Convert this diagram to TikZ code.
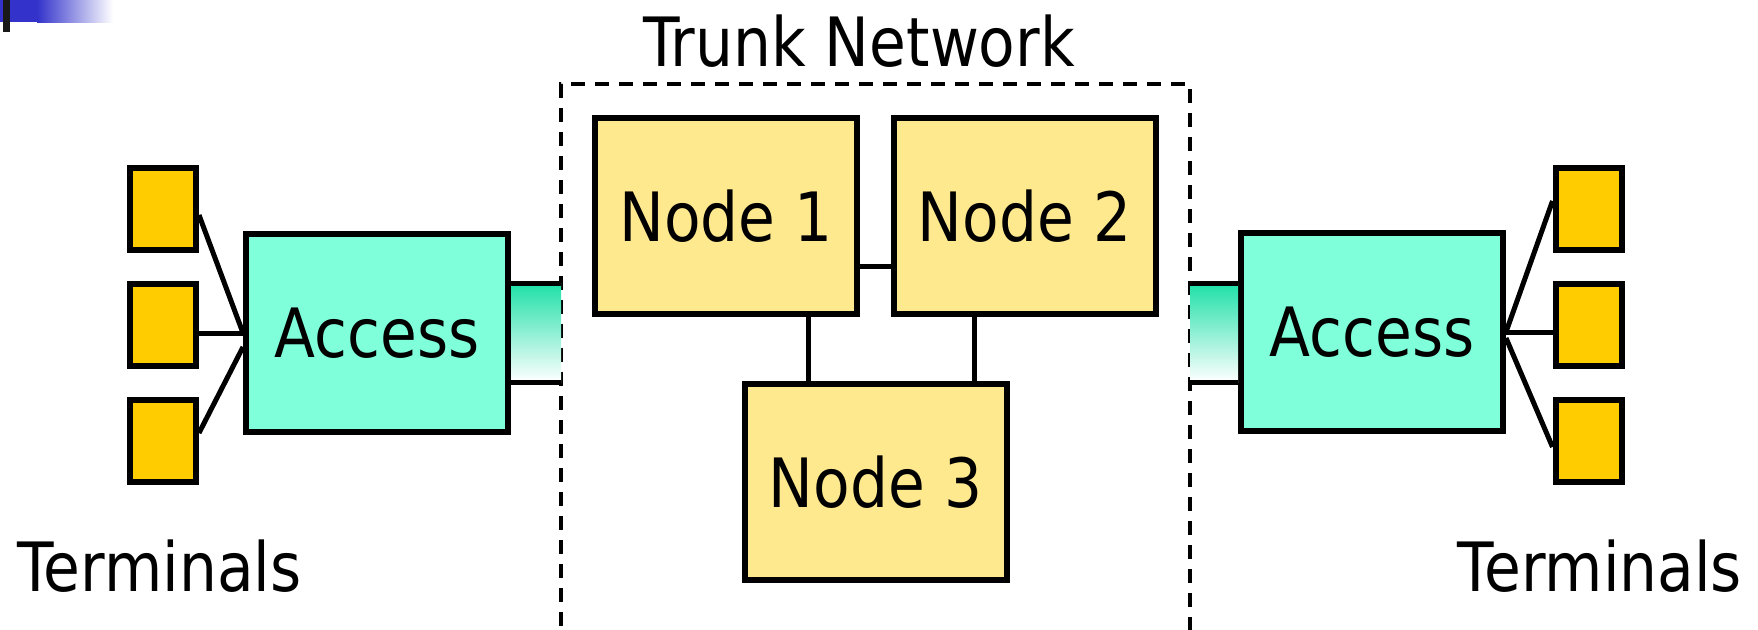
\documentclass[tikz,border=0pt]{standalone}
\usepackage{fontspec}
\setmainfont{DejaVu Sans}[FakeStretch=0.88]
\definecolor{termY}{HTML}{FFCC00}
\definecolor{accC}{HTML}{80FFDB}
\definecolor{nodeY}{HTML}{FFE98F}
\definecolor{gradTeal}{HTML}{1EE0A8}
\definecolor{barBlue}{HTML}{3333CC}
\begin{document}
\begin{tikzpicture}[x=1pt,y=-1pt,
 box/.style={draw=black, line width=6pt, rectangle, inner sep=0pt},
 term/.style={box, fill=termY, minimum width=66pt, minimum height=82pt},
 acc/.style={box, fill=accC, minimum width=262pt, minimum height=198pt, font=\fontsize{68}{80}\selectfont},
 trunkbox/.style={box, fill=nodeY, minimum width=262pt, minimum height=196pt, font=\fontsize{68}{80}\selectfont},
 wire/.style={line width=5pt},
 lbl/.style={font=\fontsize{68}{80}\selectfont, inner sep=0pt, anchor=base}]
\useasboundingbox (0,0) rectangle (1758,629);
\fill[white] (0,0) rectangle (1758,629);
% corner decoration
\fill[barBlue] (0,0) rectangle (38,22);
\shade[left color=barBlue, right color=white] (37,0) rectangle (113,22);
\fill[black!90] (3,0) rectangle (10,32);
% trunk network frame
\coordinate (dashL) at (561,84);
\coordinate (dashR) at (1190,84);
\draw[line width=4pt, dash pattern=on 14pt off 10pt] (561,650) -- (dashL) -- (dashR) -- (1190,650);
% nodes
\node[term] (tl1) at (163,209) {};
\node[term] (tl2) at (163,325) {};
\node[term] (tl3) at (163,441) {};
\node[term] (tr1) at (1588.5,209) {};
\node[term] (tr2) at (1588.5,325) {};
\node[term] (tr3) at (1588.5,441) {};
\node[acc] (al) at (377,333) {Access};
\node[acc] (ar) at (1372,332) {Access};
\node[trunkbox] (n1) at (726,216) {Node 1};
\node[trunkbox] (n2) at (1024.5,216) {Node 2};
\node[trunkbox] (n3) at (875.5,482) {Node 3};
% terminal wires
\draw[wire] ([yshift=-6pt]tl1.east) -- (al.west);
\draw[wire] (al.west -| tl2.east) -- (al.west);
\draw[wire] ([yshift=8pt]tl3.east) -- ([yshift=-14pt]al.west);
\draw[wire] (ar.east) -- ([yshift=8pt]tr1.west);
\draw[wire] (ar.east) -- (ar.east -| tr2.west);
\draw[wire] ([yshift=-6pt]ar.east) -- ([yshift=-6pt]tr3.west);
% access stubs
\shade[top color=gradTeal, bottom color=white] (al.east |- 0,283) rectangle (dashL |- 0,382);
\draw[wire] (al.east |- 0,283) -- (dashL |- 0,283);
\draw[wire] (al.east |- 0,382) -- (dashL |- 0,382);
\shade[top color=gradTeal, bottom color=white] (dashR |- 0,283) rectangle (ar.west |- 0,382);
\draw[wire] (dashR |- 0,283) -- (ar.west |- 0,283);
\draw[wire] (dashR |- 0,382) -- (ar.west |- 0,382);
% trunk links
\draw[wire] ([yshift=-50pt]n1.east) -- ([yshift=-50pt]n2.west);
\draw[wire] ([xshift=82pt]n1.south) -- ([xshift=82pt]n1.south |- n3.north);
\draw[wire] ([xshift=-50.5pt]n2.south) -- ([xshift=-50.5pt]n2.south |- n3.north);
% labels
\node[lbl] (trunkl) at (859,66) {Trunk Network};
\node[lbl] (terml) at (159.5,591) {Terminals};
\node[lbl] (termr) at (1600,591) {Terminals};
\end{tikzpicture}
\end{document}
